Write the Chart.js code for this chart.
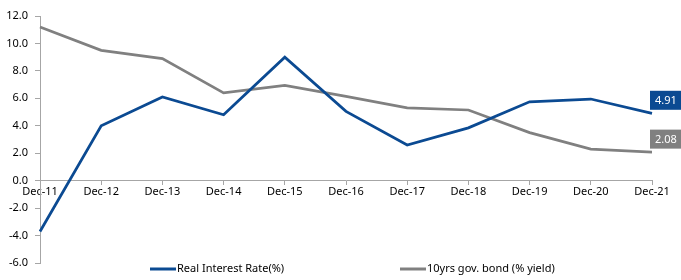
<!DOCTYPE html>
<html>
<head>
<meta charset="utf-8">
<style>
  html, body { margin: 0; padding: 0; background: #ffffff; }
  #wrap { width: 681px; height: 280px; position: relative; }
</style>
<script src="https://cdn.jsdelivr.net/npm/chart.js@4/dist/chart.umd.min.js"></script>
</head>
<body>
<div id="wrap"><canvas id="c" width="681" height="280"></canvas></div>
<script>
const categories = ["Dec-11","Dec-12","Dec-13","Dec-14","Dec-15","Dec-16","Dec-17","Dec-18","Dec-19","Dec-20","Dec-21"];
const realInterestRate = [-3.7, 4.0, 6.1, 4.8, 9.0, 5.05, 2.6, 3.85, 5.75, 5.95, 4.91];
const bondYield10y = [11.2, 9.5, 8.9, 6.4, 6.95, 6.15, 5.3, 5.15, 3.5, 2.3, 2.08];
const seriesNames = ["Real Interest Rate(%)", "10yrs gov. bond (% yield)"];
const yTicks = [-6, -4, -2, 0, 2, 4, 6, 8, 10, 12];

const BLUE = "#0b4a92";
const GREY = "#808080";
const FONT = "'Noto Sans', sans-serif";

const endLabels = {
  id: "endLabels",
  afterDatasetsDraw(chart) {
    const ctx = chart.ctx;
    ctx.save();
    chart.data.datasets.forEach((ds, i) => {
      const meta = chart.getDatasetMeta(i);
      const pt = meta.data[meta.data.length - 1];
      const v = ds.data[ds.data.length - 1];
      const x = pt.x - 2, yc = pt.y - 13;
      ctx.fillStyle = ds.borderColor;
      ctx.fillRect(x, yc - 9.5, 40, 19);
      ctx.fillStyle = "#ffffff";
      ctx.font = "11px " + FONT;
      ctx.textBaseline = "middle";
      ctx.textAlign = "left";
      ctx.fillText(v.toFixed(2), x + 5, yc + 0.5);
    });
    ctx.restore();
  }
};

const customLegend = {
  id: "customLegend",
  afterDraw(chart) {
    const ctx = chart.ctx;
    ctx.save();
    const starts = [150, 400];
    const y = 269;
    ctx.font = "11px " + FONT;
    ctx.textBaseline = "middle";
    ctx.textAlign = "left";
    chart.data.datasets.forEach((ds, i) => {
      const x0 = starts[i];
      ctx.strokeStyle = ds.borderColor;
      ctx.lineWidth = 3;
      ctx.beginPath();
      ctx.moveTo(x0, y);
      ctx.lineTo(x0 + 26, y);
      ctx.stroke();
      ctx.fillStyle = "#000000";
      ctx.fillText(ds.label, x0 + 27, y);
    });
    ctx.restore();
  }
};

new Chart(document.getElementById("c"), {
  type: "line",
  data: {
    labels: categories,
    datasets: [
      { label: seriesNames[0], data: realInterestRate, borderColor: BLUE, backgroundColor: BLUE, borderWidth: 2.75, pointRadius: 0, tension: 0 },
      { label: seriesNames[1], data: bondYield10y, borderColor: GREY, backgroundColor: GREY, borderWidth: 2.75, pointRadius: 0, tension: 0 }
    ]
  },
  options: {
    responsive: false,
    animation: false,
    devicePixelRatio: 1,
    layout: { padding: { left: 0, right: 29, top: 16, bottom: 17 } },
    plugins: {
      legend: { display: false },
      tooltip: { enabled: false }
    },
    scales: {
      x: {
        position: { y: 0 },
        offset: false,
        grid: { display: true, drawOnChartArea: false, drawTicks: true, tickLength: 4, color: "#a6a6a6" },
        border: { display: true, color: "#a6a6a6", width: 1 },
        ticks: { color: "#000000", font: { family: FONT, size: 11 }, padding: 1, maxRotation: 0, autoSkip: false }
      },
      y: {
        min: -6, max: 12,
        afterFit(scale) { scale.width = 40; },
        afterBuildTicks(scale) { scale.ticks = yTicks.map(v => ({ value: v })); },
        grid: { display: true, drawOnChartArea: false, drawTicks: true, tickLength: 5, color: "#a6a6a6" },
        border: { display: true, color: "#a6a6a6", width: 1 },
        ticks: { color: "#000000", font: { family: FONT, size: 11 }, padding: 7, callback: v => Number(v).toFixed(1) }
      }
    }
  },
  plugins: [endLabels, customLegend]
});
</script>
</body>
</html>
